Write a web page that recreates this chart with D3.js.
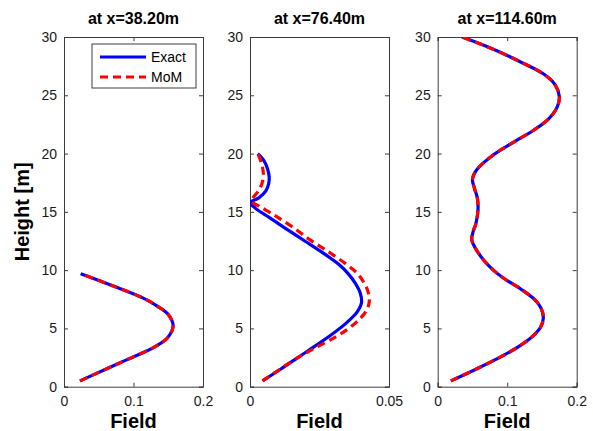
<!DOCTYPE html>
<html>
<head>
<meta charset="utf-8">
<script src="https://cdn.jsdelivr.net/npm/d3@7"></script>
<style>
  body { margin: 0; background: #fff; }
  text { font-family: "Liberation Sans", Arial, sans-serif; }
</style>
</head>
<body>
<div id="wrap"></div>
<script>
// panel titles + axis ticks
var titles = ["at x=38.20m", "at x=76.40m", "at x=114.60m"];
var xMax = [0.2, 0.05, 0.2];
var xTicks = [[0, 0.1, 0.2], [0, 0.05], [0, 0.1, 0.2]];
var yTicks = [0, 5, 10, 15, 20, 25, 30];
var legendNames = ["Exact", "MoM"];

// panel 1 : height, field (MoM sits on top of exact)
var h1 = [0.5, 1.5, 2.3, 3.4, 4.2, 5.2, 6.2, 7.0, 7.6, 8.7, 9.7];
var exact1 = [0.023, 0.060, 0.090, 0.130, 0.149, 0.157, 0.150, 0.132, 0.114, 0.068, 0.024];
var mom1 = [0.023, 0.060, 0.090, 0.130, 0.149, 0.157, 0.150, 0.132, 0.114, 0.068, 0.024];

// panel 2 (exact and MoM differ here)
var h2exact = [0.5, 1.5, 2.5, 3.5, 4.5, 5.5, 6.4, 7.2, 8.0, 8.9, 9.7, 10.5, 11.5, 12.5, 13.5, 14.5, 15.3, 15.8, 16.2, 16.8, 17.4, 18.0, 18.7, 19.4, 20.0];
var exact2 = [0.0045, 0.0110, 0.0172, 0.0235, 0.0295, 0.0348, 0.0385, 0.0401, 0.0397, 0.0378, 0.0353, 0.0319, 0.0261, 0.0197, 0.0133, 0.0070, 0.0020, 0.0001, 0.0032, 0.0057, 0.0067, 0.0069, 0.0063, 0.0050, 0.0028];
var h2mom = [0.5, 1.5, 2.5, 3.3, 4.3, 5.0, 5.75, 6.5, 7.3, 8.2, 9.0, 9.75, 10.5, 11.5, 12.6, 13.75, 14.8, 15.5, 15.9, 16.8, 17.5, 18.3, 19.2, 20.0];
var mom2 = [0.0045, 0.0108, 0.0172, 0.0232, 0.0310, 0.0355, 0.0392, 0.0418, 0.0429, 0.0424, 0.0408, 0.0385, 0.0347, 0.0287, 0.0216, 0.0150, 0.0082, 0.0032, 0.0006, 0.0030, 0.0044, 0.0048, 0.0041, 0.0028];

// panel 3 (MoM sits on top of exact)
var h3 = [0.5, 1.5, 2.6, 3.5, 4.3, 5.1, 5.9, 6.7, 7.45, 8.4, 9.3, 10.0, 10.8, 11.8, 12.6, 13.3, 14.0, 15.2, 16.2, 17.0, 17.8, 18.6, 19.8, 20.9, 22.0, 23.0, 24.0, 24.9, 25.9, 26.8, 27.9, 29.2, 30.0];
var exact3 = [0.019, 0.055, 0.092, 0.118, 0.136, 0.148, 0.152, 0.149, 0.140, 0.119, 0.095, 0.080, 0.067, 0.055, 0.049, 0.051, 0.055, 0.058, 0.057, 0.053, 0.050, 0.056, 0.078, 0.107, 0.138, 0.160, 0.172, 0.175, 0.169, 0.153, 0.118, 0.070, 0.035];
var mom3 = [0.019, 0.055, 0.092, 0.118, 0.136, 0.148, 0.152, 0.149, 0.140, 0.119, 0.095, 0.080, 0.067, 0.055, 0.049, 0.051, 0.055, 0.058, 0.057, 0.053, 0.050, 0.056, 0.078, 0.107, 0.138, 0.160, 0.172, 0.175, 0.169, 0.153, 0.118, 0.070, 0.035];

var panels = [
  { exact: d3.zip(h1, exact1), mom: d3.zip(h1, mom1) },
  { exact: d3.zip(h2exact, exact2), mom: d3.zip(h2mom, mom2) },
  { exact: d3.zip(h3, exact3), mom: d3.zip(h3, mom3) }
];

var width = 593, height = 431;
var lefts = [64, 250, 437.7],
    plotW = 139,
    plotTop = 37,
    plotBottom = 386.7;

var svg = d3.select('#wrap').append('svg')
  .attr('width', width)
  .attr('height', height);

var y = d3.scaleLinear().domain([0, 30]).range([plotBottom, plotTop]);
var axisColor = '#3c3c3c';

panels.forEach(function(p, i) {
  var x = d3.scaleLinear().domain([0, xMax[i]]).range([lefts[i], lefts[i] + plotW]);
  var g = svg.append('g');

  svg.append('defs').append('clipPath').attr('id', 'clip' + i)
    .append('rect')
    .attr('x', lefts[i]).attr('y', plotTop)
    .attr('width', plotW).attr('height', plotBottom - plotTop);

  //ticks pointing inward, on all four sides (matlab box)
  g.append('g')
    .attr('transform', 'translate(0,' + plotBottom + ')')
    .call(d3.axisBottom(x).tickValues(xTicks[i]).tickSize(-4).tickPadding(9).tickFormat(d3.format('')));
  g.append('g')
    .attr('transform', 'translate(0,' + plotTop + ')')
    .call(d3.axisTop(x).tickValues(xTicks[i]).tickSize(-4).tickFormat(''));
  g.append('g')
    .attr('transform', 'translate(' + lefts[i] + ',0)')
    .call(d3.axisLeft(y).tickValues(yTicks).tickSize(-4).tickPadding(7));
  g.append('g')
    .attr('transform', 'translate(' + (lefts[i] + plotW) + ',0)')
    .call(d3.axisRight(y).tickValues(yTicks).tickSize(-4).tickFormat(''));

  g.selectAll('.domain').attr('stroke', axisColor).attr('stroke-width', 1);
  g.selectAll('.tick line').attr('stroke', axisColor);
  g.selectAll('.tick text')
    .style('font-size', '14px')
    .style('font-family', '"Liberation Sans", Arial, sans-serif')
    .attr('fill', '#1a1a1a');

  var line = d3.line()
    .x(function(d) { return x(d[1]); })
    .y(function(d) { return y(d[0]); })
    .curve(d3.curveCatmullRom.alpha(0.5));

  var curves = svg.append('g').attr('clip-path', 'url(#clip' + i + ')');
  curves.append('path')
    .attr('d', line(p.exact))
    .attr('fill', 'none')
    .attr('stroke', '#0000ff')
    .attr('stroke-width', 3.2);
  curves.append('path')
    .attr('d', line(p.mom))
    .attr('fill', 'none')
    .attr('stroke', '#ff0000')
    .attr('stroke-width', 3.2)
    .attr('stroke-dasharray', '8,5');

  svg.append('text')
    .attr('x', lefts[i] + plotW / 2)
    .attr('y', 24)
    .attr('text-anchor', 'middle')
    .style('font-size', '16px')
    .style('font-weight', 'bold')
    .text(titles[i]);

  svg.append('text')
    .attr('x', lefts[i] + plotW / 2)
    .attr('y', 428)
    .attr('text-anchor', 'middle')
    .style('font-size', '20px')
    .style('font-weight', 'bold')
    .text('Field');
});

svg.append('text')
  .attr('transform', 'translate(29,' + (plotTop + plotBottom) / 2 + ') rotate(-90)')
  .attr('text-anchor', 'middle')
  .style('font-size', '20px')
  .style('font-weight', 'bold')
  .text('Height [m]');

//legend
var legend = svg.append('g');
legend.append('rect')
  .attr('x', 92).attr('y', 44)
  .attr('width', 104).attr('height', 44)
  .attr('fill', '#fff')
  .attr('stroke', axisColor);

var legendItems = legend.selectAll('.item')
  .data(legendNames)
  .enter().append('g')
    .attr('class', 'item')
    .attr('transform', function(d, i) { return 'translate(0,' + (57 + i * 20) + ')'; });

legendItems.append('line')
  .attr('x1', 100).attr('x2', 146)
  .attr('stroke', function(d, i) { return i === 0 ? '#0000ff' : '#ff0000'; })
  .attr('stroke-width', 3.2)
  .attr('stroke-dasharray', function(d, i) { return i === 0 ? null : '8,5'; });

legendItems.append('text')
  .attr('x', 151)
  .attr('y', 5)
  .style('font-size', '14px')
  .text(function(d) { return d; });
</script>
</body>
</html>
